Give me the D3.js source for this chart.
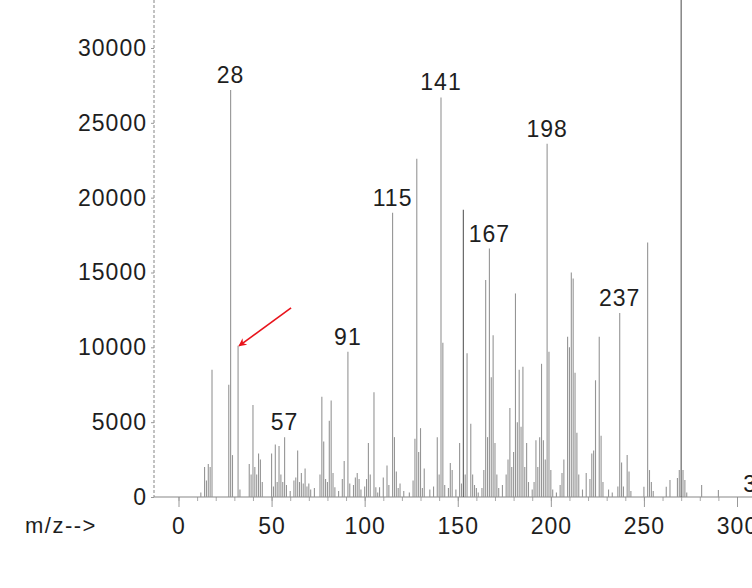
<!DOCTYPE html>
<html>
<head>
<meta charset="utf-8">
<script src="https://cdn.jsdelivr.net/npm/d3@7"></script>
<style>
  html, body { margin: 0; padding: 0; background: #fff; }
  svg { display: block; }
  text { font-family: "Liberation Sans", Arial, sans-serif; fill: #1e1e1e; }
</style>
</head>
<body>
<svg id="chart" width="752" height="588"></svg>
<script>
// ---- data ----
const mz = [
  12,14,15,16,17,18,27,28,29,32,33,38,39,40,41,42,43,44,45,
  50,51,52,53,54,55,56,57,58,60,62,63,64,65,66,67,68,69,70,71,73,
  76,77,78,79,80,81,82,83,84,86,88,89,91,92,94,95,96,97,98,
  100,101,102,103,105,106,107,108,110,112,113,115,116,117,118,119,121,124,
  126,127,128,129,130,131,132,135,137,139,140,141,142,143,145,146,147,149,
  151,152,153,154,155,157,158,159,160,161,163,164,165,166,167,168,169,170,
  171,172,174,176,177,178,179,180,181,182,183,184,185,186,187,188,190,191,
  192,193,194,195,196,197,198,199,200,201,203,205,206,207,209,210,211,212,
  213,214,215,217,219,221,222,223,224,226,227,228,231,233,236,237,238,239,
  241,242,243,250,252,253,254,255,262,264,268,269,270,271,272,273,281,290
];
const abundance = [
  300,2000,1100,2200,2000,8500,7500,27200,2800,10100,500,2200,1500,6150,2000,1500,2900,2500,1000,
  2900,700,3500,1000,3400,1500,1000,4000,800,400,1100,1300,3100,1000,1600,900,1900,700,900,500,600,
  1500,6700,3700,1200,1000,5100,6450,1600,650,400,1200,2400,9700,900,800,1300,1600,1200,500,
  700,1200,3600,1500,7000,650,300,650,1300,2100,800,19000,4000,1700,600,900,400,300,
  1100,3900,22600,3000,4600,600,1900,500,700,4000,1500,26700,10300,800,600,2270,1800,500,
  3600,900,19200,1500,9600,4900,1500,800,600,300,600,1800,14500,4000,16600,8000,10800,3600,
  1500,600,800,1500,2500,5950,2000,3000,13600,5000,8500,4700,8700,2000,3600,1000,500,1000,
  3800,2000,4000,8900,3800,2500,23600,9700,1800,500,300,800,1600,2500,10700,10000,15000,14600,
  8300,4300,1500,500,1600,1200,2900,3100,7800,10700,4100,1000,500,300,700,12300,2300,700,
  2800,1700,400,690,17000,1800,1000,400,690,1140,1270,1800,34000,1800,1140,300,800,470
];
const labelMz   = [28, 57, 91, 115, 141, 167, 198, 237];
const labelText = ["28", "57", "91", "115", "141", "167", "198", "237"];
const yTicks = [0, 5000, 10000, 15000, 20000, 25000, 30000];
const xTicks = [0, 50, 100, 150, 200, 250, 300];
const xMinorTicks = d3.range(0, 301, 10);
const arrowTarget = {mz: 32, value: 10100};
const edgeLabel = {mz: 305, value: 900, text: "3"};

// ---- scales ----
const svg = d3.select("#chart");
const x = d3.scaleLinear().domain([0, 300]).range([178.5, 737]);
const y = d3.scaleLinear().domain([0, 30000]).range([497, 48]);
const axisX = 154;
const FS = "23px", LS = "1px";

svg.append("defs").append("clipPath").attr("id", "plotclip")
  .append("rect").attr("x", 0).attr("y", 0).attr("width", 752).attr("height", 498);

// ---- y axis ----
const yAxis = d3.axisLeft(y).tickValues(yTicks).tickSize(3).tickPadding(4).tickFormat(d3.format("d"));
const gy = svg.append("g").attr("transform", `translate(${axisX},0)`).call(yAxis);
gy.select(".domain").remove();
gy.selectAll(".tick line").attr("stroke", "#999");
gy.selectAll(".tick text").style("font-size", FS).style("letter-spacing", LS)
  .style("font-family", '"Liberation Sans", Arial, sans-serif').attr("fill", "#222");
svg.append("line").attr("x1", axisX).attr("x2", axisX).attr("y1", 0).attr("y2", y(0))
  .attr("stroke", "#9a9a9a").attr("stroke-width", 1.2).attr("stroke-dasharray", "3,2");

// ---- x axis ----
const gxMinor = svg.append("g").attr("transform", `translate(0,${y(0)})`)
  .call(d3.axisBottom(x).tickValues(xMinorTicks).tickSize(4).tickFormat(""));
gxMinor.select(".domain").remove();
gxMinor.selectAll(".tick line").attr("stroke", "#aaa");
const gx = svg.append("g").attr("transform", `translate(0,${y(0)})`)
  .call(d3.axisBottom(x).tickValues(xTicks).tickSize(10).tickFormat(d3.format("d")));
gx.select(".domain").remove();
gx.selectAll(".tick line").attr("stroke", "#999");
gx.selectAll(".tick text").attr("y", 37).attr("dy", 0)
  .style("font-size", FS).style("letter-spacing", LS)
  .style("font-family", '"Liberation Sans", Arial, sans-serif').attr("fill", "#222");
svg.append("line").attr("x1", axisX).attr("x2", 752).attr("y1", y(0)).attr("y2", y(0))
  .attr("stroke", "#888").attr("stroke-width", 1.2);

svg.append("text").attr("x", 25).attr("y", y(0) + 36)
  .style("font-size", "22px").style("letter-spacing", "1.5px").text("m/z-->");

// ---- peaks ----
const data = mz.map((m, i) => ({m, v: abundance[i]}));
svg.append("g").attr("clip-path", "url(#plotclip)")
  .selectAll("line").data(data).join("line")
  .attr("x1", d => x(d.m)).attr("x2", d => x(d.m))
  .attr("y1", y(0)).attr("y2", d => y(d.v))
  .attr("stroke", d => (d.m === 153 || d.m === 270) ? "#5a5a5a" : "#959595")
  .attr("stroke-width", 1.1);

// ---- peak labels ----
const byMz = new Map(data.map(d => [d.m, d.v]));
svg.append("g").selectAll("text").data(labelMz).join("text")
  .attr("x", d => x(d))
  .attr("y", d => y(byMz.get(d)) - 15)
  .attr("text-anchor", "middle").attr("dominant-baseline", "central")
  .style("font-size", FS).style("letter-spacing", LS)
  .text((d, i) => labelText[i]);

svg.append("text").attr("x", x(edgeLabel.mz) - 3).attr("y", y(edgeLabel.value))
  .attr("dominant-baseline", "central").style("font-size", FS).text(edgeLabel.text);

// ---- red arrow ----
svg.select("defs").append("marker").attr("id", "arrowhead")
  .attr("viewBox", "0 0 10 10").attr("refX", 9).attr("refY", 5)
  .attr("markerWidth", 10).attr("markerHeight", 8).attr("markerUnits", "userSpaceOnUse")
  .attr("orient", "auto")
  .append("path").attr("d", "M0,0 L10,5 L0,10 L3,5 Z").attr("fill", "#e8141c");
const tipX = x(arrowTarget.mz) + 1, tipY = y(arrowTarget.value);
svg.append("line")
  .attr("x1", tipX + 52).attr("y1", tipY - 38)
  .attr("x2", tipX).attr("y2", tipY)
  .attr("stroke", "#e8141c").attr("stroke-width", 1.6)
  .attr("marker-end", "url(#arrowhead)");
</script>
</body>
</html>
